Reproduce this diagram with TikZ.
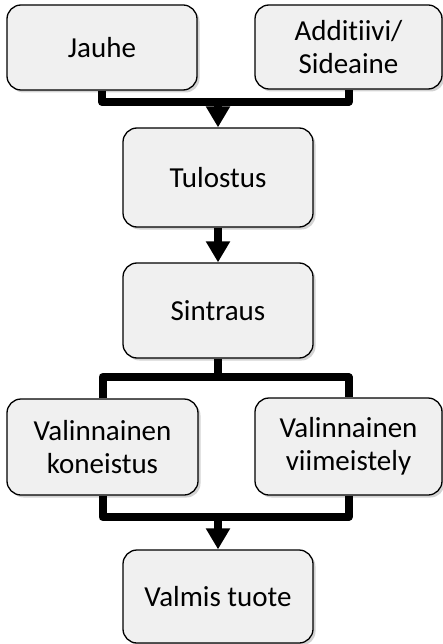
\documentclass[tikz,border=0pt]{standalone}
\usepackage{fontspec}
\setmainfont{Carlito}[Ligatures=NoCommon]
\usetikzlibrary{arrows.meta,shadows}
\begin{document}
\begin{tikzpicture}[x=1pt,y=-1pt,
  box/.style={draw=black, line width=1.3pt, fill=boxgray, rounded corners=14pt,
    inner sep=0pt, align=center, font=\fontsize{29}{33}\selectfont,
    drop shadow={opacity=0.35, shadow xshift=2.5pt, shadow yshift=-2.5pt}},
  link/.style={line width=8pt, line join=round},
  arr/.style={line width=8pt, -{Triangle[width=23pt,length=21pt]}}]
\definecolor{boxgray}{HTML}{F0F0F0}
\useasboundingbox (0,0) rectangle (443,644);
\node[box, minimum width=190pt, minimum height=85pt] (jauhe) at (102,47.5) {Jauhe};
\node[box, minimum width=187pt, minimum height=84pt] (add) at (348.5,47) {Additiivi/\\Sideaine};
\node[box, minimum width=190pt, minimum height=99pt] (tul) at (218,177.5) {Tulostus};
\node[box, minimum width=190pt, minimum height=95pt] (sin) at (218,310.5) {Sintraus};
\node[box, minimum width=191pt, minimum height=96pt] (kon) at (102.5,447) {Valinnainen\\koneistus};
\node[box, minimum width=187pt, minimum height=97pt] (vii) at (348.5,446.5) {Valinnainen\\viimeistely};
\node[box, minimum width=190pt, minimum height=93pt] (val) at (218,596.5) {Valmis tuote};
\coordinate (m1) at (218,102);
\coordinate (b1) at (218,377);
\coordinate (m2) at (218,517);
\draw[link] (jauhe.south) |- (m1) -| (add.south);
\draw[arr] (m1) -- (tul.north);
\draw[arr] (tul.south) -- (sin.north);
\draw[link] (sin.south) -- (b1);
\draw[link] (kon.north) |- (b1) -| (vii.north);
\draw[link] (kon.south) |- (m2) -| (vii.south);
\draw[arr] (m2) -- (val.north);
\end{tikzpicture}
\end{document}
